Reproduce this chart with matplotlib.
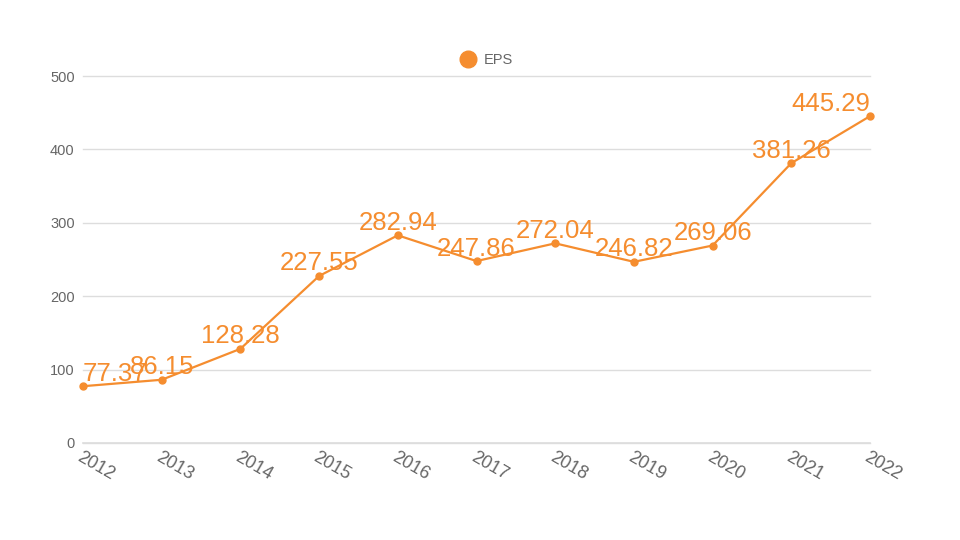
import matplotlib.pyplot as plt
from matplotlib.lines import Line2D

plt.rcParams['font.family'] = ['Liberation Sans', 'DejaVu Sans']

years = ['2012', '2013', '2014', '2015', '2016', '2017', '2018', '2019', '2020', '2021', '2022']
eps = [77.37, 86.15, 128.28, 227.55, 282.94, 247.86, 272.04, 246.82, 269.06, 381.26, 445.29]
yticks = [0, 100, 200, 300, 400, 500]

orange = '#f58d2f'
grey = '#666666'

fig = plt.figure(figsize=(9.6, 5.4), dpi=100)
ax = fig.add_axes([83 / 960, 97 / 540, 787 / 960, 367 / 540])

x = list(range(len(years)))
ax.plot(x, eps, color=orange, linewidth=1.6, marker='o', markersize=5, zorder=3, clip_on=False)

# value labels, clamped inside the plot area at both ends
for i, v in enumerate(eps):
    ha = 'center'
    if i == 0:
        ha = 'left'
    elif i == len(eps) - 1:
        ha = 'right'
    ax.annotate(f'{v:.2f}', (i, v), xytext=(0, 4), textcoords='offset points',
                ha=ha, va='baseline', fontsize=18.5, color=orange, zorder=4)

ax.set_xlim(0, len(years) - 1)
ax.set_ylim(0, 500)
ax.set_yticks(yticks)
ax.set_xticks(x)
ax.set_xticklabels(years, rotation=-30, ha='left', va='top', rotation_mode='anchor')
ax.tick_params(axis='both', length=0, labelcolor=grey)
ax.tick_params(axis='y', labelsize=10.5, pad=6)
ax.tick_params(axis='x', labelsize=13, pad=4)
ax.grid(axis='y', color='#dddddd', linewidth=1, clip_on=False)
ax.set_axisbelow(True)
for s in ax.spines.values():
    s.set_visible(False)
ax.axhline(0, color='#dddddd', linewidth=1.2, clip_on=False, zorder=0)

handle = Line2D([], [], linestyle='none', marker='o', markersize=12, color=orange)
fig.legend([handle], ['EPS'], loc='center', bbox_to_anchor=(483 / 960, 1 - 60 / 540),
           frameon=False, fontsize=10.5, labelcolor=grey, handletextpad=0.1)

fig.savefig('out.png', dpi=100)
